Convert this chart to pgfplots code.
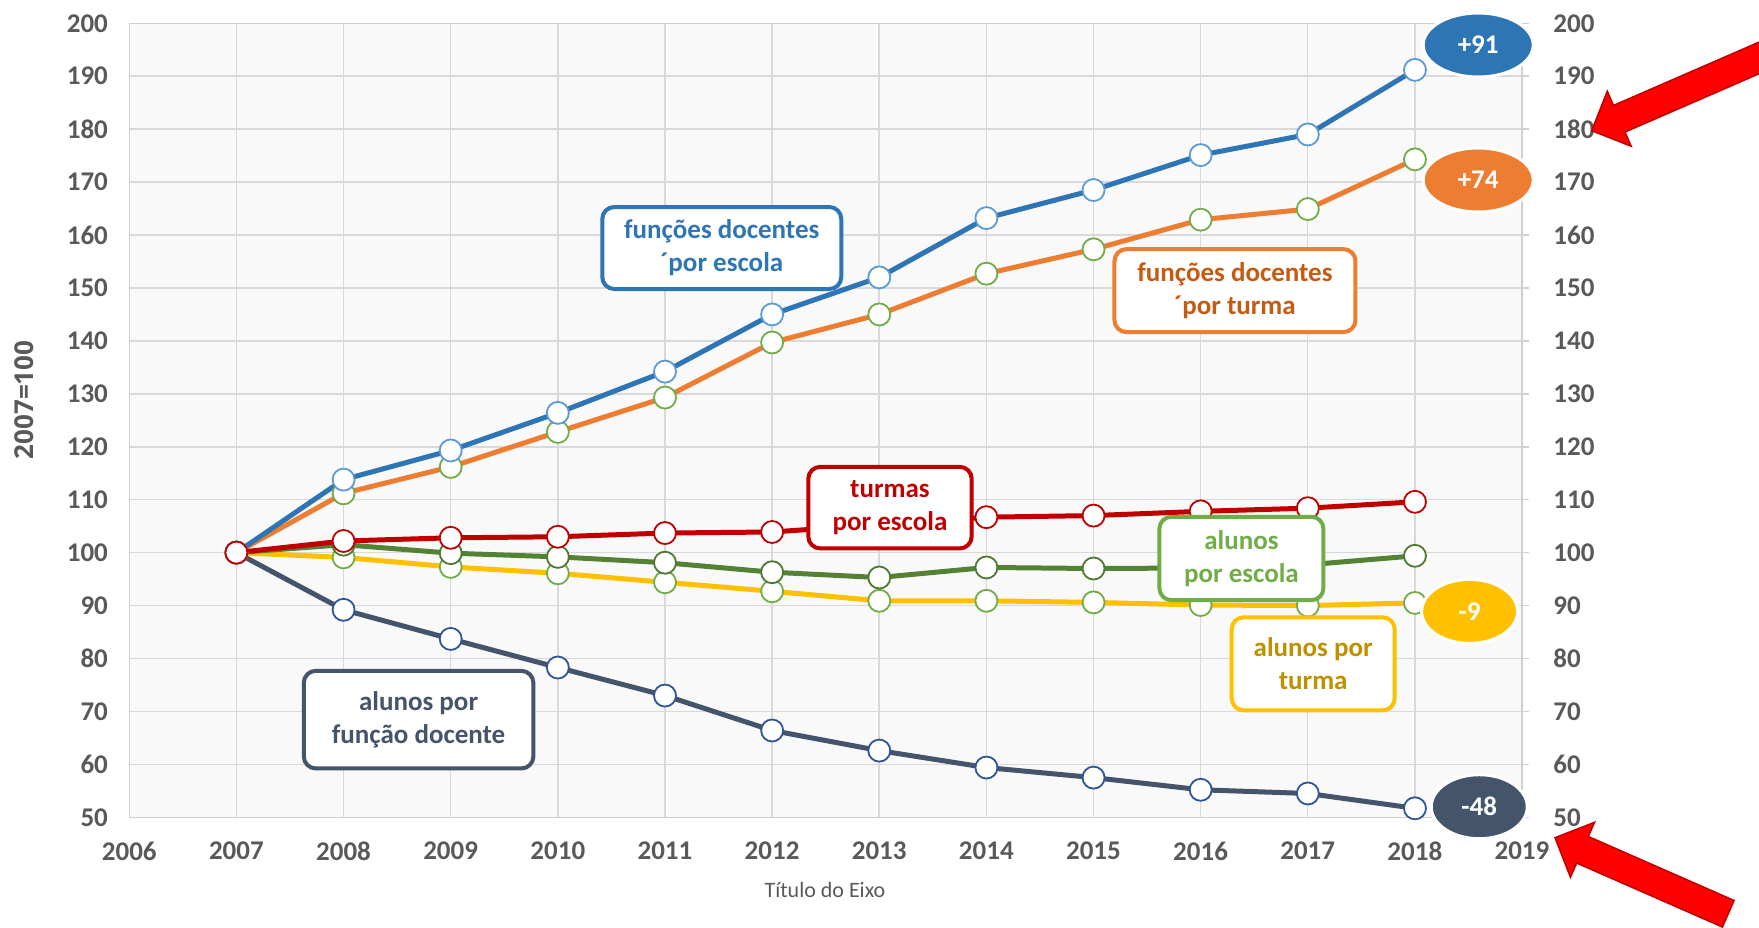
\documentclass[border=0pt]{standalone}
\usepackage{fontspec}
\setmainfont{Carlito}
\newfontfamily\osfont{Open Sans}
\usepackage{pgfplots}
\pgfplotsset{compat=1.18}
\usetikzlibrary{shapes.geometric}

\definecolor{cBlue}{HTML}{2E75B6}
\definecolor{cBlueEdge}{HTML}{5B9BD5}
\definecolor{cOrange}{HTML}{ED7D31}
\definecolor{cOrangeTxt}{HTML}{C55A11}
\definecolor{cRed}{HTML}{C00000}
\definecolor{cGreen}{HTML}{548235}
\definecolor{cGreenEdge}{HTML}{4E7A30}
\definecolor{cLGreen}{HTML}{70AD47}
\definecolor{cYellow}{HTML}{FFC000}
\definecolor{cYellowTxt}{HTML}{BF9000}
\definecolor{cDark}{HTML}{44546A}
\definecolor{cDarkEdge}{HTML}{2F5597}
\definecolor{cGrid}{HTML}{D9D9D9}
\definecolor{cAxis}{HTML}{D0D0D0}
\definecolor{cBg}{HTML}{F9F9F9}
\definecolor{cTick}{HTML}{595959}
\definecolor{cArrow}{HTML}{FF0000}
\definecolor{cArrowEdge}{HTML}{C00000}

\pgfplotstableread{
year blue orange red green yellow dark
2007 100   100   100   100   100   100
2008 113.8 111.2 102.2 101.5 99.1  89.2
2009 119.3 116.2 102.8 99.9  97.3  83.7
2010 126.4 122.8 103.0 99.2  96.1  78.3
2011 134.2 129.3 103.7 98.1  94.4  73.0
2012 145.0 139.7 103.9 96.3  92.7  66.4
2013 152.0 145.0 105.3 95.3  90.9  62.6
2014 163.2 152.7 106.7 97.2  90.9  59.4
2015 168.5 157.3 107.0 97.0  90.6  57.5
2016 175.1 162.9 107.8 97.1  90.1  55.2
2017 179.0 164.9 108.4 97.7  90.0  54.5
2018 191.2 174.3 109.6 99.4  90.5  51.7
}\datatable

\tikzset{
  lbl/.style={draw=#1, rounded corners=6pt, line width=2pt, fill=white, align=center,
    inner sep=0pt, font=\bfseries\fontsize{13.5}{16.5}\selectfont},
  ell/.style={ellipse, fill=#1, draw=white, line width=1.5pt, inner sep=0pt,
    minimum height=32pt, text=white, font=\bfseries\fontsize{13.5}{16}\selectfont},
}
\pgfplotsset{
  ln/.style={color=#1, line width=2.5pt, no marks, line join=round},
  mk/.style={only marks, mark=*, mark size=5.5pt, mark options={fill=white, draw=#1, line width=0.9pt}},
}

\begin{document}
\begin{tikzpicture}
\useasboundingbox (-64.65pt,-54.85pt) rectangle (814.85pt,408.65pt);
\begin{axis}[
  at={(0,0)}, anchor=south west, scale only axis,
  width=696.4pt, height=397pt,
  xmin=2006, xmax=2019, ymin=50, ymax=200,
  xtick={2006,2007,...,2019}, ytick={50,60,...,200},
  grid=major, grid style={draw=cGrid, line width=0.75pt},
  axis line style={draw=cAxis, line width=0.75pt},
  axis background/.style={fill=cBg},
  major tick length=0pt, tick style={draw=none},
  clip=false,
  /pgf/number format/assume math mode=true,
  /pgf/number format/1000 sep={},
  ticklabel style={font=\bfseries\fontsize{13.5}{16}\selectfont, text=cTick, inner sep=0pt},
  xticklabel style={anchor=north, yshift=-12pt},
  yticklabel style={anchor=east, xshift=-10.5pt},
]
\addplot[ln=cDark]   table[x=year,y=dark]   {\datatable};
\addplot[ln=cYellow] table[x=year,y=yellow] {\datatable};
\addplot[ln=cGreen]  table[x=year,y=green]  {\datatable};
\addplot[ln=cOrange] table[x=year,y=orange] {\datatable};
\addplot[ln=cBlue]   table[x=year,y=blue]   {\datatable};
\addplot[ln=cRed]    table[x=year,y=red]    {\datatable};

\addplot[mk=cDarkEdge]  table[x=year,y=dark]   {\datatable};
\addplot[mk=cLGreen]    table[x=year,y=yellow] {\datatable};
\addplot[mk=cGreenEdge] table[x=year,y=green]  {\datatable};
\addplot[mk=cLGreen]    table[x=year,y=orange] {\datatable};
\addplot[mk=cBlueEdge]  table[x=year,y=blue]   {\datatable};
\addplot[mk=cRed]       table[x=year,y=red]    {\datatable};
\end{axis}

\begin{axis}[
  at={(0,0)}, anchor=south west, scale only axis,
  width=696.4pt, height=397pt,
  xmin=2006, xmax=2019, ymin=50, ymax=200,
  axis x line=none, axis y line*=right,
  ytick={50,60,...,200},
  axis line style={draw=cAxis, line width=0.75pt},
  tick align=outside, major tick length=3.5pt,
  ytick style={draw=cAxis, line width=0.75pt},
  clip=false,
  /pgf/number format/assume math mode=true,
  yticklabel style={font=\bfseries\fontsize{13.5}{16}\selectfont, text=cTick, inner sep=0pt, anchor=west, xshift=12pt},
]
\addplot[draw=none] coordinates {(2006,50) (2019,200)};
\node[lbl=cBlue, text=cBlue, minimum width=119.5pt, minimum height=41pt] at (axis cs:2011.53,157.55) {funções docentes\\´por escola};
\node[lbl=cOrange, text=cOrangeTxt, minimum width=120.5pt, minimum height=41.5pt] at (axis cs:2016.32,149.5) {funções docentes\\´por turma};
\node[lbl=cRed, text=cRed, minimum width=81.7pt, minimum height=40.8pt] at (axis cs:2013.10,108.5) {turmas\\por escola};
\node[lbl=cLGreen, text=cLGreen, minimum width=82pt, minimum height=41.7pt] at (axis cs:2016.38,98.9) {alunos\\por escola};
\node[lbl=cYellow, text=cYellowTxt, minimum width=81.5pt, minimum height=46.5pt] at (axis cs:2017.05,79.0) {alunos por\\turma};
\node[lbl=cDark, text=cDark, minimum width=114.8pt, minimum height=48.8pt] at (axis cs:2008.70,68.45) {alunos por\\função docente};
\node[ell=cBlue, minimum width=55pt] at (axis cs:2018.59,195.9) {+91};
\node[ell=cOrange, minimum width=55pt] at (axis cs:2018.59,170.4) {+74};
\node[ell=cYellow, minimum width=48pt] at (axis cs:2018.51,88.9) {-9};
\node[ell=cDark, minimum width=48pt] at (axis cs:2018.60,52.0) {-48};
\end{axis}

\node[rotate=90, font=\osfont\bfseries\fontsize{13}{15}\selectfont, text=cTick] at (-52.3pt,208.65pt) {2007=100};
\node[font=\fontsize{11}{13}\selectfont, text=cTick] at (347.85pt,-36.35pt) {Título do Eixo};

\begin{scope}[shift={(731.2pt,343.3pt)}, rotate=23.5]
\filldraw[fill=cArrow, draw=cArrowEdge, line width=0.75pt, line join=miter]
  (0,0) -- (15pt,15pt) -- (15pt,7.25pt) -- (110pt,7.25pt) -- (110pt,-7.25pt) -- (15pt,-7.25pt) -- (15pt,-15pt) -- cycle;
\end{scope}
\begin{scope}[shift={(712.85pt,-10.2pt)}, rotate=-23.7]
\filldraw[fill=cArrow, draw=cArrowEdge, line width=0.75pt, line join=miter]
  (0,0) -- (15pt,15pt) -- (15pt,7.25pt) -- (94.6pt,7.25pt) -- (94.6pt,-7.25pt) -- (15pt,-7.25pt) -- (15pt,-15pt) -- cycle;
\end{scope}
\end{tikzpicture}
\end{document}
